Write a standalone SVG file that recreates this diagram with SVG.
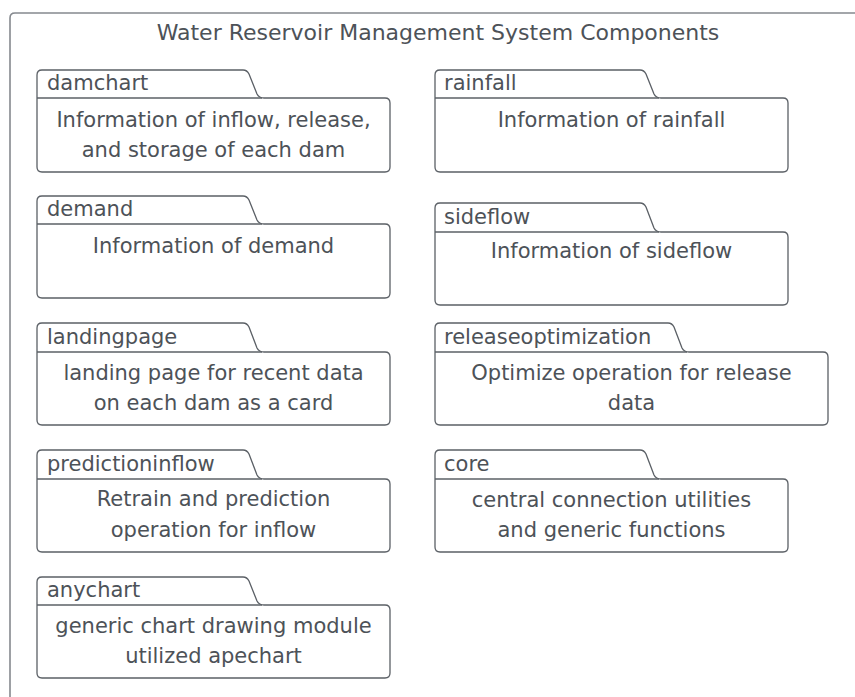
<svg xmlns="http://www.w3.org/2000/svg" width="855" height="697" viewBox="0 0 855 697">
<style>
.frame{fill:#ffffff;stroke:#85898e;stroke-width:1.6}
.pkg{fill:#ffffff;stroke:#5b6066;stroke-width:1.3;stroke-linejoin:round}
.sep{fill:none;stroke:#5b6066;stroke-width:1.3}
text{font-family:"DejaVu Sans","Liberation Sans",sans-serif;font-size:21px;fill:#4d5258}
.c{text-anchor:middle}
.t{font-size:22px}
</style>
<rect width="855" height="697" fill="#ffffff"/>
<g id="frame">
<path class="frame" d="M10,700 V18 Q10,13 15,13 H860"/>
<text class="c t" x="438" y="40">Water Reservoir Management System Components</text>
</g>
<g id="connectors"></g>
<g id="damchart">
<path class="pkg" d="M37,98 V75 Q37,70 42,70 H243 Q247,70 249,74 L257,94 Q259,98 264,98 H385 Q390,98 390,103 V167 Q390,172 385,172 H42 Q37,172 37,167 Z"/>
<path class="sep" d="M37,98 H262"/>
<text x="47" y="90">damchart</text>
<text class="c" x="213.5" y="127">Information of inflow, release,</text>
<text class="c" x="213.5" y="157">and storage of each dam</text>
</g>
<g id="rainfall">
<path class="pkg" d="M435,98 V75 Q435,70 440,70 H640 Q644,70 646,74 L654,94 Q656,98 661,98 H783 Q788,98 788,103 V167 Q788,172 783,172 H440 Q435,172 435,167 Z"/>
<path class="sep" d="M435,98 H659"/>
<text x="444" y="90">rainfall</text>
<text class="c" x="611.5" y="127">Information of rainfall</text>
</g>
<g id="demand">
<path class="pkg" d="M37,224 V201 Q37,196 42,196 H243 Q247,196 249,200 L257,220 Q259,224 264,224 H385 Q390,224 390,229 V293 Q390,298 385,298 H42 Q37,298 37,293 Z"/>
<path class="sep" d="M37,224 H262"/>
<text x="47" y="216">demand</text>
<text class="c" x="213.5" y="253">Information of demand</text>
</g>
<g id="sideflow">
<path class="pkg" d="M435,232 V208 Q435,203 440,203 H640 Q644,203 646,207 L654,228 Q656,232 661,232 H783 Q788,232 788,237 V300 Q788,305 783,305 H440 Q435,305 435,300 Z"/>
<path class="sep" d="M435,232 H659"/>
<text x="444" y="224">sideflow</text>
<text class="c" x="611.5" y="258">Information of sideflow</text>
</g>
<g id="landingpage">
<path class="pkg" d="M37,352 V328 Q37,323 42,323 H243 Q247,323 249,327 L257,348 Q259,352 264,352 H385 Q390,352 390,357 V420 Q390,425 385,425 H42 Q37,425 37,420 Z"/>
<path class="sep" d="M37,352 H262"/>
<text x="47" y="344">landingpage</text>
<text class="c" x="213.5" y="380">landing page for recent data</text>
<text class="c" x="213.5" y="410">on each dam as a card</text>
</g>
<g id="releaseoptimization">
<path class="pkg" d="M435,352 V328 Q435,323 440,323 H668 Q672,323 674,327 L682,348 Q684,352 689,352 H823 Q828,352 828,357 V420 Q828,425 823,425 H440 Q435,425 435,420 Z"/>
<path class="sep" d="M435,352 H687"/>
<text x="444" y="344">releaseoptimization</text>
<text class="c" x="631.5" y="380">Optimize operation for release</text>
<text class="c" x="631.5" y="410">data</text>
</g>
<g id="predictioninflow">
<path class="pkg" d="M37,479 V455 Q37,450 42,450 H243 Q247,450 249,454 L257,475 Q259,479 264,479 H385 Q390,479 390,484 V547 Q390,552 385,552 H42 Q37,552 37,547 Z"/>
<path class="sep" d="M37,479 H262"/>
<text x="47" y="471">predictioninflow</text>
<text class="c" x="213.5" y="506">Retrain and prediction</text>
<text class="c" x="213.5" y="537">operation for inflow</text>
</g>
<g id="core">
<path class="pkg" d="M435,479 V455 Q435,450 440,450 H640 Q644,450 646,454 L654,475 Q656,479 661,479 H783 Q788,479 788,484 V547 Q788,552 783,552 H440 Q435,552 435,547 Z"/>
<path class="sep" d="M435,479 H659"/>
<text x="444" y="471">core</text>
<text class="c" x="611.5" y="507">central connection utilities</text>
<text class="c" x="611.5" y="537">and generic functions</text>
</g>
<g id="anychart">
<path class="pkg" d="M37,605 V582 Q37,577 42,577 H243 Q247,577 249,581 L257,601 Q259,605 264,605 H385 Q390,605 390,610 V673 Q390,678 385,678 H42 Q37,678 37,673 Z"/>
<path class="sep" d="M37,605 H262"/>
<text x="47" y="597">anychart</text>
<text class="c" x="213.5" y="633">generic chart drawing module</text>
<text class="c" x="213.5" y="663">utilized apechart</text>
</g>
</svg>
